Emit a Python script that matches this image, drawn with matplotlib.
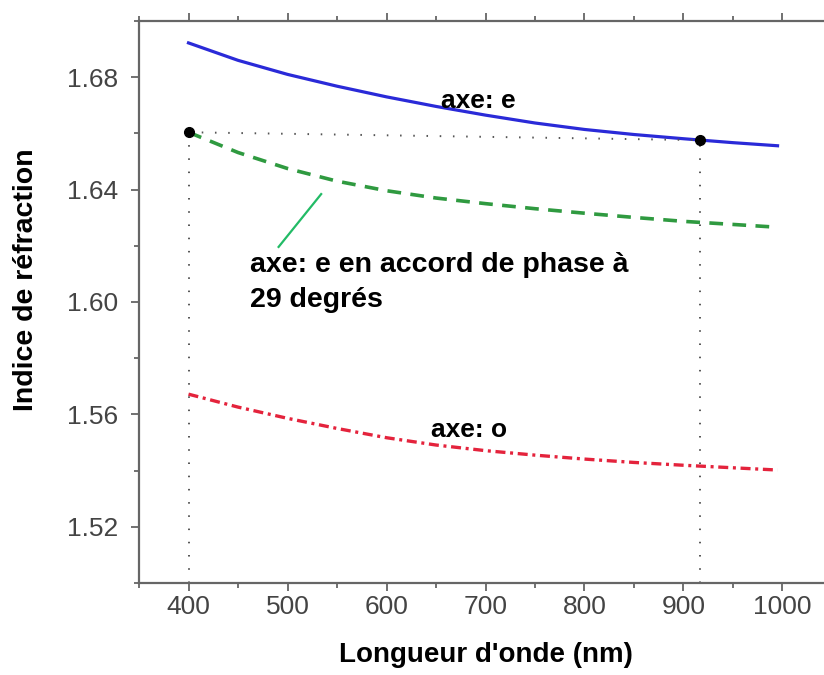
import matplotlib
matplotlib.use('Agg')
import matplotlib.pyplot as plt
from matplotlib.ticker import MultipleLocator, FormatStrFormatter

plt.rcParams['font.family'] = ['Liberation Sans', 'DejaVu Sans']

# longueurs d'onde (nm)
wl = [400, 450, 500, 550, 600, 650, 700, 750, 800, 850, 900, 950, 995]
n_e = [1.6922, 1.6860, 1.6810, 1.6768, 1.6730, 1.6696, 1.6665, 1.6637, 1.6614, 1.6596, 1.6581, 1.6567, 1.6556]
n_phase = [1.6604, 1.6532, 1.6475, 1.6430, 1.6396, 1.6370, 1.6350, 1.6332, 1.6316, 1.6301, 1.6287, 1.6276, 1.6266]
n_o = [1.5672, 1.5626, 1.5586, 1.5550, 1.5517, 1.5491, 1.5471, 1.5455, 1.5441, 1.5429, 1.5419, 1.5410, 1.5402]

# points d'accord de phase
pts_x = [400, 917]
pts_y = [1.6604, 1.6576]

fig = plt.figure(figsize=(8.24, 6.75), dpi=100)
ax = fig.add_axes([0.1687, 0.1363, 0.841, 0.8326])

ax.plot(wl, n_e, color='#2a2ad8', lw=2.3)
ax.plot(wl, n_phase, color='#2f9a40', lw=2.6, dashes=(3.8, 2.6))
ax.plot(wl, n_o, color='#e4233c', lw=2.4, dashes=(3.0, 1.4, 0.9, 1.4))

dot_style = dict(color='#555555', lw=1.4, linestyle=(0, (0.8, 6)))
ax.plot(pts_x, pts_y, **dot_style)
for x, y in zip(pts_x, pts_y):
    ax.plot([x, x], [1.50, y], **dot_style)
ax.plot(pts_x, pts_y, 'o', color='black', ms=7, zorder=5)

ax.text(693, 1.669, 'axe: e', fontsize=19, fontweight='bold', ha='center', va='baseline')
ax.text(683, 1.552, 'axe: o', fontsize=19, fontweight='bold', ha='center', va='baseline')
ax.text(462, 1.6107, 'axe: e en accord de phase à', fontsize=20.5, fontweight='bold',
        ha='left', va='baseline')
ax.text(462, 1.5982, '29 degrés', fontsize=20.5, fontweight='bold', ha='left', va='baseline')
ax.plot([534, 491], [1.6384, 1.6196], color='#22bb66', lw=1.6)

ax.set_xlim(350, 1050)
ax.set_ylim(1.50, 1.70)
ax.xaxis.set_major_locator(MultipleLocator(100))
ax.xaxis.set_minor_locator(MultipleLocator(50))
ax.set_yticks([1.52, 1.56, 1.60, 1.64, 1.68])
ax.yaxis.set_minor_locator(MultipleLocator(0.02))
ax.yaxis.set_major_formatter(FormatStrFormatter('%.2f'))

for s in ax.spines.values():
    s.set_color('#666666')
    s.set_linewidth(1.6)
ax.spines['right'].set_visible(False)
ax.tick_params(which='both', direction='out', top=True, color='#666666', width=1.3,
               labelsize=19, labelcolor='#444444')
ax.tick_params(which='major', length=6)
ax.tick_params(which='minor', length=3.5)
ax.tick_params(axis='y', which='major', pad=9)
ax.tick_params(axis='x', which='major', pad=3)

ax.set_xlabel("Longueur d'onde (nm)", fontsize=20, fontweight='bold', labelpad=16)
ax.set_ylabel('Indice de réfraction', fontsize=20.5, fontweight='bold')
ax.yaxis.set_label_coords(-0.144, 0.539)

fig.savefig('out.png', dpi=100)
